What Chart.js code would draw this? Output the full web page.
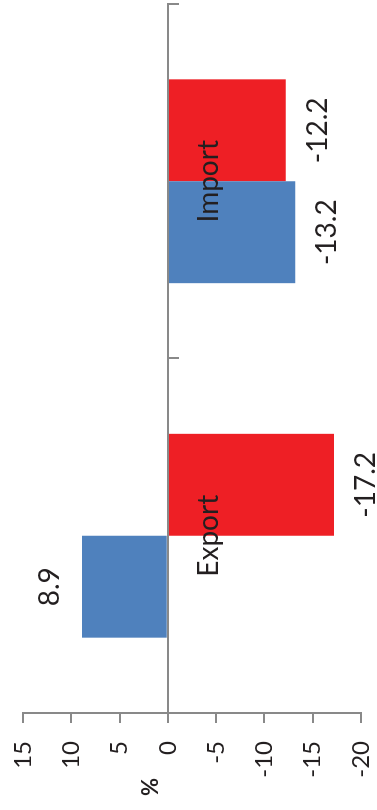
<!DOCTYPE html>
<html>
<head>
<meta charset="utf-8">
<script src="https://cdn.jsdelivr.net/npm/chart.js@4.4.1/dist/chart.umd.min.js"></script>
<style>
  html, body { margin: 0; padding: 0; background: #ffffff; overflow: hidden; }
  /* The chart is laid out as a column chart, then turned a quarter turn anticlockwise */
  #wrap {
    position: absolute; left: 0; top: 0;
    width: 810px; height: 377px;
    transform-origin: 0 0;
    transform: translate(0, 810px) rotate(-90deg);
  }
  canvas { display: block; }
</style>
</head>
<body>
<div id="wrap"><canvas id="chart" width="810" height="377"></canvas></div>
<script>
const categories = ['Export', 'Import'];
const seriesBlue = [8.9, -13.2];
const seriesRed = [-17.2, -12.2];
const axisMin = -20;
const axisMax = 15;
const axisStep = 5;
const unitLabel = '%';

const axisColor = '#898989';
const textColor = '#231f20';
const fontFamily = 'Lato, "Open Sans", sans-serif';

// Value labels at the outer end of each bar
const barValueLabels = {
  id: 'barValueLabels',
  afterDatasetsDraw(chart) {
    const ctx = chart.ctx;
    ctx.save();
    ctx.font = '28px ' + fontFamily;
    ctx.fillStyle = textColor;
    ctx.textAlign = 'center';
    ctx.textBaseline = 'middle';
    chart.data.datasets.forEach((ds, i) => {
      const meta = chart.getDatasetMeta(i);
      meta.data.forEach((bar, j) => {
        const v = ds.data[j];
        const y = v < 0 ? bar.y + 32 : bar.y - 32;
        ctx.fillText(String(v), bar.x, y);
      });
    });
    ctx.restore();
  }
};

// Unit caption beside the value axis
const unitCaption = {
  id: 'unitCaption',
  afterDraw(chart) {
    const ctx = chart.ctx;
    ctx.save();
    ctx.font = 'bold 22px ' + fontFamily;
    ctx.fillStyle = textColor;
    ctx.textAlign = 'center';
    ctx.textBaseline = 'middle';
    ctx.fillText(unitLabel, 23, 151);
    ctx.restore();
  }
};

new Chart(document.getElementById('chart'), {
  type: 'bar',
  data: {
    labels: categories,
    datasets: [
      { data: seriesBlue, backgroundColor: '#4f81bd', borderWidth: 0,
        categoryPercentage: 0.575, barPercentage: 1 },
      { data: seriesRed, backgroundColor: '#ee1f25', borderWidth: 0,
        categoryPercentage: 0.575, barPercentage: 1 }
    ]
  },
  options: {
    responsive: false,
    animation: false,
    devicePixelRatio: 1,
    layout: { padding: { top: 23, bottom: 16, right: 4, left: 0 } },
    plugins: { legend: { display: false }, tooltip: { enabled: false } },
    scales: {
      x: {
        type: 'category',
        position: { y: 0 },
        offset: true,
        grid: { offset: true, drawOnChartArea: false, drawTicks: true, tickLength: 10,
                color: axisColor, lineWidth: 2 },
        border: { display: true, color: axisColor, width: 2, z: 1 },
        ticks: { z: 1, font: { family: fontFamily, size: 28 }, color: textColor, padding: 14,
                 maxRotation: 0, autoSkip: false }
      },
      y: {
        min: axisMin,
        max: axisMax,
        ticks: { stepSize: axisStep, font: { family: fontFamily, size: 24 }, color: textColor,
                 padding: 18 },
        grid: { drawOnChartArea: false, drawTicks: true, tickLength: 10,
                color: axisColor, lineWidth: 2 },
        border: { display: true, color: axisColor, width: 2 },
        afterFit(scale) {
          scale.width = 97;
          scale.paddingTop = 0;
          scale.paddingBottom = 0;
        }
      }
    }
  },
  plugins: [barValueLabels, unitCaption]
});
</script>
</body>
</html>
